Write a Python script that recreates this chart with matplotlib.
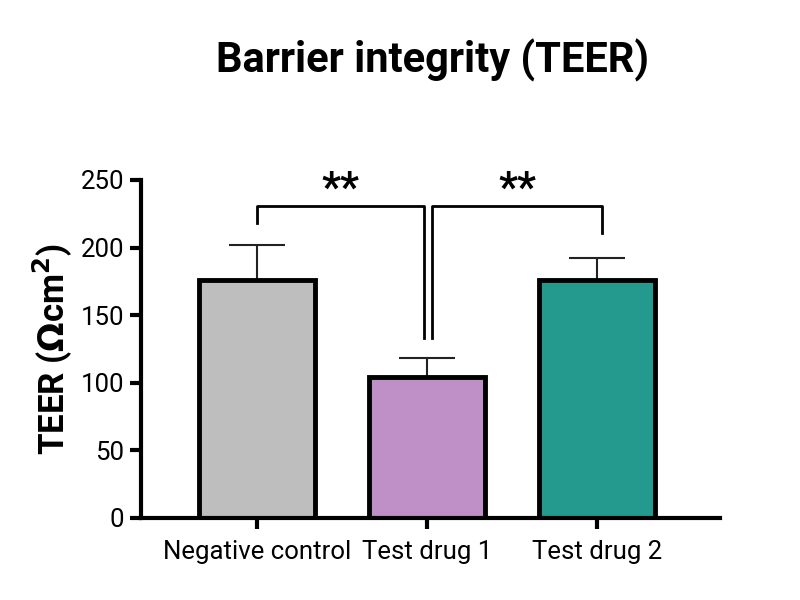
import numpy as np
import matplotlib.pyplot as plt

groups = ["Negative control", "Test drug 1", "Test drug 2"]
means = [176, 104, 176]
sd = [26, 14, 16]
colors = ["#BEBEBE", "#BF90C8", "#249A8E"]
yticks = [0, 50, 100, 150, 200, 250]


def plotTEER():
    plt.rcParams['font.family'] = ['Roboto', 'DejaVu Sans']
    fig = plt.figure(figsize=(8, 6), dpi=100)
    ax = fig.add_axes([0.176, 0.137, 0.724, 0.563])

    x = np.arange(len(groups))
    ax.bar(x, means, width=0.68, color=colors, edgecolor='black', linewidth=3.5, zorder=2)
    ax.errorbar(x, means, yerr=[np.zeros(len(sd)), sd], fmt='none', ecolor='#222222',
                elinewidth=1.5, capsize=20, capthick=1.5, zorder=1)

    ax.set_xlim(-0.68, 2.72)
    ax.set_ylim(0, 250)
    ax.set_yticks(yticks)
    ax.set_xticks(x)
    ax.set_xticklabels(groups)
    ax.tick_params(axis='both', width=3, length=8, labelsize=18.5)
    ax.tick_params(axis='x', pad=8)
    ax.tick_params(axis='y', pad=4)
    for s in ['top', 'right']:
        ax.spines[s].set_visible(False)
    for s in ['left', 'bottom']:
        ax.spines[s].set_linewidth(3)

    # significance brackets
    h = 231
    ax.plot([0, 0, 0.98, 0.98], [218, h, h, 133], color='black', lw=2, clip_on=False)
    ax.plot([1.03, 1.03, 2.03, 2.03], [133, h, h, 211], color='black', lw=2, clip_on=False)
    ax.text(0.49, 243, "**", ha='center', va='center', fontsize=30, fontweight='bold')
    ax.text(1.53, 243, "**", ha='center', va='center', fontsize=30, fontweight='bold')

    ax.set_ylabel(r"TEER ($\mathbf{\Omega}$cm$^\mathbf{2}$)", fontsize=25, fontweight='bold', labelpad=5)
    fig.suptitle("Barrier integrity (TEER)", x=0.54, y=0.935, fontsize=30, fontweight='bold')
    plt.savefig("out.png", dpi=100)


def main():
    plotTEER()

if __name__ == "__main__":
    main()
